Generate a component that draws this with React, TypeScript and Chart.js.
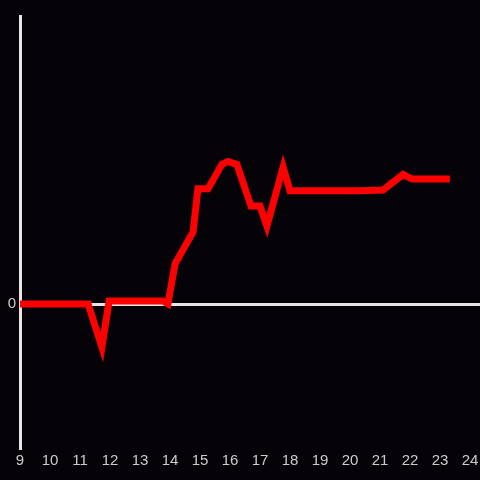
import React, { useEffect, useRef } from "react";
import { Chart, registerables } from "chart.js";

Chart.register(...registerables);

const hours = [9, 11.27, 11.73, 11.97, 13.77, 13.93, 14.17, 14.77, 14.93, 15.27, 15.73, 15.93, 16.23, 16.7, 17.0, 17.23, 17.77, 18.0, 20.3, 21.1, 21.77, 22.07, 23.33];
const values = [0, 0, -15, 1, 1, 0, 14, 25, 40, 40, 48.5, 49.5, 48.5, 34, 34, 27, 47.5, 39.3, 39.3, 39.6, 45, 43.4, 43.4];
const xTickLabels = [9, 10, 11, 12, 13, 14, 15, 16, 17, 18, 19, 20, 21, 22, 23, 24];
const yTickLabels = [0];

export default function App() {
  const ref = useRef<HTMLCanvasElement | null>(null);
  useEffect(() => {
    document.body.style.margin = "0";
    document.body.style.background = "#050308";
    const bg = {
      id: "bg",
      beforeDraw(c: any) {
        const ctx = c.ctx;
        ctx.save();
        ctx.fillStyle = "#050308";
        ctx.fillRect(0, 0, c.width, c.height);
        ctx.restore();
      },
    };
    const chart = new Chart(ref.current as HTMLCanvasElement, {
      type: "line",
      data: {
        datasets: [
          {
            data: hours.map((h, i) => ({ x: h, y: values[i] })),
            borderColor: "#ff0000",
            borderWidth: 7,
            pointRadius: 0,
            tension: 0,
            borderJoinStyle: "miter",
            fill: false,
          },
        ],
      },
      options: {
        responsive: false,
        animation: false,
        layout: { padding: { top: 16, right: 0, left: 0, bottom: 0 } },
        plugins: { legend: { display: false }, tooltip: { enabled: false } },
        scales: {
          x: {
            type: "linear",
            min: 9,
            max: 24.333,
            afterBuildTicks: (s: any) => {
              s.ticks = xTickLabels.map((v) => ({ value: v }));
            },
            afterFit: (s: any) => {
              s.height = 32;
              s.paddingRight = 0;
              s.paddingLeft = 0;
            },
            grid: { display: false, drawTicks: false },
            border: { display: false },
            ticks: {
              color: "#cccccc",
              padding: 4,
              maxRotation: 0,
              autoSkip: false,
              font: { family: "Liberation Sans", size: 15 },
            },
          },
          y: {
            min: -50,
            max: 100,
            afterBuildTicks: (s: any) => {
              s.ticks = yTickLabels.map((v) => ({ value: v }));
            },
            afterFit: (s: any) => {
              s.width = 20;
              s.paddingTop = 0;
              s.paddingBottom = 0;
            },
            grid: { color: "#e6e6e6", lineWidth: 3, drawTicks: false },
            border: { display: true, color: "#e6e6e6", width: 3 },
            ticks: {
              color: "#cccccc",
              padding: 4,
              font: { family: "Liberation Sans", size: 15 },
            },
          },
        },
      },
      plugins: [bg],
    } as any);
    return () => chart.destroy();
  }, []);
  return <canvas ref={ref} width={480} height={480} style={{ display: "block" }} />;
}
